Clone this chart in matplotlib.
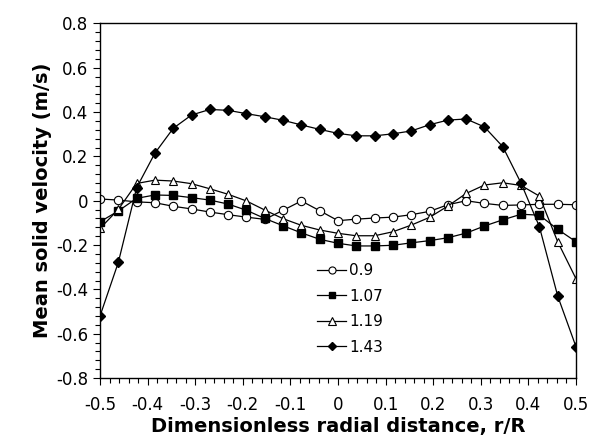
import numpy as np
import matplotlib
matplotlib.use('Agg')
from matplotlib import pyplot as plt
from matplotlib.ticker import MultipleLocator, FuncFormatter

plt.rcParams['font.family'] = ['DejaVu Sans']

# radial positions r/R (27 measuring points)
r = np.linspace(-0.5, 0.5, 27)

# mean solid velocity (m/s) for each series
v_090 = [0.008, 0.003, -0.005, -0.009, -0.025, -0.037, -0.051, -0.063, -0.074, -0.084,
         -0.043, -0.001, -0.045, -0.090, -0.083, -0.078, -0.074, -0.063, -0.048, -0.018,
         0.000, -0.012, -0.021, -0.019, -0.016, -0.016, -0.018]
v_107 = [-0.095, -0.046, 0.011, 0.026, 0.024, 0.014, 0.003, -0.015, -0.043, -0.080,
         -0.113, -0.145, -0.174, -0.192, -0.204, -0.204, -0.201, -0.190, -0.180, -0.167,
         -0.146, -0.114, -0.086, -0.061, -0.065, -0.129, -0.185]
v_119 = [-0.125, -0.039, 0.078, 0.093, 0.089, 0.077, 0.054, 0.029, -0.001, -0.042,
         -0.081, -0.111, -0.132, -0.147, -0.158, -0.158, -0.140, -0.110, -0.075, -0.024,
         0.033, 0.071, 0.081, 0.069, 0.021, -0.185, -0.352]
v_143 = [-0.520, -0.278, 0.059, 0.215, 0.327, 0.387, 0.412, 0.408, 0.393, 0.379,
         0.363, 0.342, 0.322, 0.304, 0.293, 0.293, 0.302, 0.315, 0.343, 0.364,
         0.369, 0.333, 0.244, 0.079, -0.117, -0.430, -0.659]

labels = ['0.9', '1.07', '1.19', '1.43']

fig = plt.figure(figsize=(5.94, 4.43), dpi=100)
ax = fig.add_axes([0.1684, 0.1467, 0.8013, 0.8003])

ax.plot(r, v_090, '-o', color='black', lw=0.9, ms=6, mfc='white', mec='black', mew=0.8, label=labels[0])
ax.plot(r, v_107, '-s', color='black', lw=0.9, ms=5.5, mfc='black', mec='black', label=labels[1])
ax.plot(r, v_119, '-^', color='black', lw=0.9, ms=6, mfc='white', mec='black', mew=0.8, label=labels[2])
ax.plot(r, v_143, '-D', color='black', lw=0.9, ms=5, mfc='black', mec='black', label=labels[3])

ax.set_xlim(-0.5, 0.5)
ax.set_ylim(-0.8, 0.8)
ax.xaxis.set_major_locator(MultipleLocator(0.1))
ax.xaxis.set_minor_locator(MultipleLocator(0.02))
ax.yaxis.set_major_locator(MultipleLocator(0.2))
ax.yaxis.set_minor_locator(MultipleLocator(0.04))
fmt = FuncFormatter(lambda v, p: '0' if abs(v) < 1e-9 else '%g' % v)
ax.xaxis.set_major_formatter(fmt)
ax.yaxis.set_major_formatter(fmt)

ax.tick_params(which='both', direction='out', top=False, right=False, labelsize=12, width=0.8)
ax.tick_params(which='major', length=5)
ax.tick_params(which='minor', length=3.5)
ax.tick_params(axis='x', which='major', pad=8)
for s in ax.spines.values():
    s.set_linewidth(1.0)

ax.set_xlabel('Dimensionless radial distance, r/R', fontsize=14, fontweight='bold', labelpad=2)
ax.set_ylabel('Mean solid velocity (m/s)', fontsize=14, fontweight='bold', labelpad=3)

ax.legend(loc='upper left', bbox_to_anchor=(0.44, 0.345), frameon=False, fontsize=11,
          handlelength=1.9, handletextpad=0.2, labelspacing=0.68, borderpad=0, markerscale=0.85)

fig.savefig('out.png', dpi=100)
